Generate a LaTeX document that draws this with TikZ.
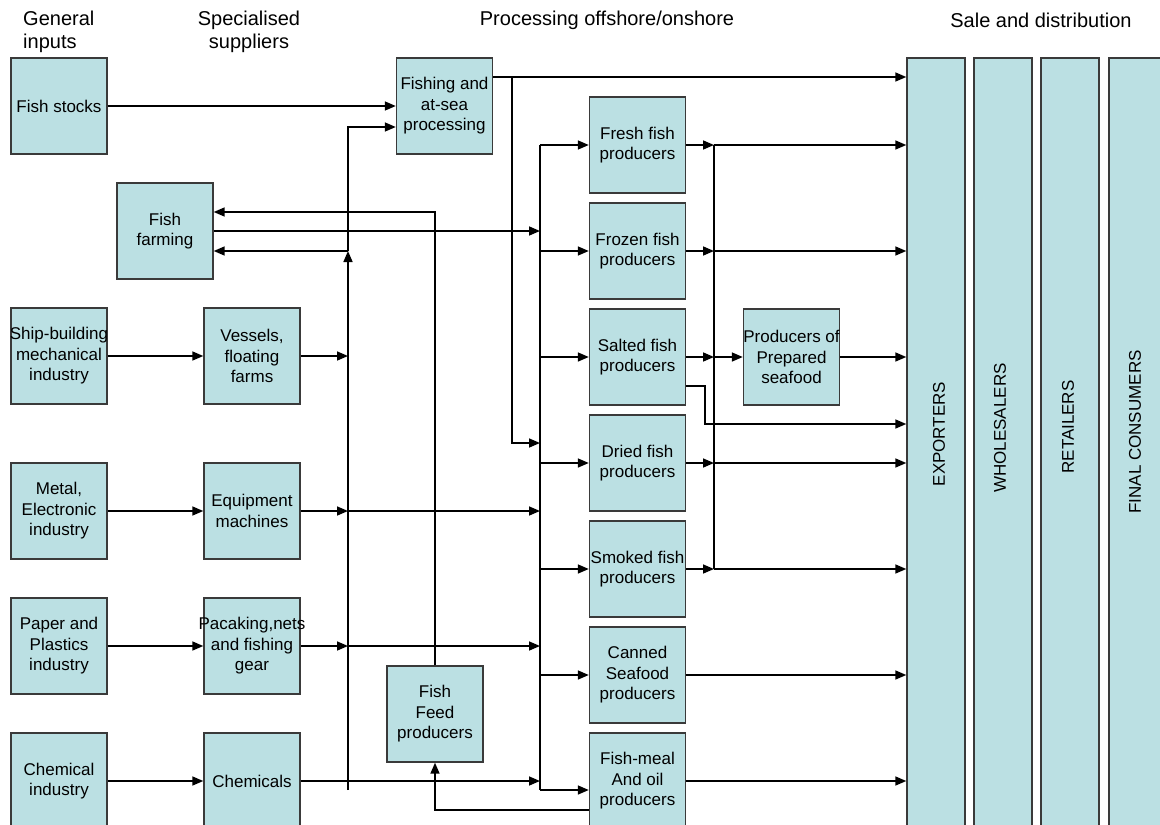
\documentclass[tikz,border=0pt]{standalone}
\usepackage{fontspec}
\setmainfont{Liberation Sans}
\usetikzlibrary{arrows.meta}
\definecolor{boxfill}{HTML}{BBE0E3}
\definecolor{boxline}{HTML}{3A3A3A}
\tikzset{
  box/.style={rectangle, draw=boxline, fill=boxfill, line width=1.4pt,
    minimum width=96pt, minimum height=96pt, inner sep=0pt, align=center,
    font=\fontsize{17}{20.5}\selectfont},
  colbox/.style={rectangle, draw=boxline, fill=boxfill, line width=1.4pt,
    minimum width=58pt, minimum height=772pt, inner sep=0pt},
  collabel/.style={rotate=90, font=\fontsize{17}{20}\selectfont, inner sep=0pt},
  head/.style={font=\fontsize{20}{23}\selectfont, inner sep=0pt},
  conn/.style={line width=1.6pt, black},
  arr/.style={conn, -{Triangle[length=11pt,width=9pt]}},
}
\newcommand{\wideline}[1]{\makebox[0pt][c]{#1}}
\begin{document}
\begin{tikzpicture}[x=1pt,y=-1pt]
\useasboundingbox (0,0) rectangle (1160,825);
\clip (0,0) rectangle (1160,825);

% headers
\node[head, align=left, anchor=west] (h1) at (23,31.5) {General\\inputs};
\node[head, align=center] (h2) at (249,31.5) {Specialised\\suppliers};
\node[head] (h3) at (607,20) {Processing offshore/onshore};
\node[head] (h4) at (1041,20) {Sale and distribution};

% column 1
\node[box] (fs) at (59,106) {Fish stocks};
\node[box] (sb) at (59,356) {\wideline{Ship-building}\\mechanical\\industry};
\node[box] (met) at (59,511) {Metal,\\Electronic\\industry};
\node[box] (pap) at (59,646) {Paper and\\Plastics\\industry};
\node[box] (chem) at (59,781) {Chemical\\industry};

% column 2
\node[box] (ff) at (165,231) {Fish\\farming};
\node[box] (ves) at (252,356) {Vessels,\\floating\\farms};
\node[box] (eq) at (252,511) {Equipment\\machines};
\node[box] (pack) at (252,646) {\wideline{Pacaking,nets}\\and fishing\\gear};
\node[box] (chs) at (252,781) {Chemicals};

% processing
\node[box] (fish) at (444.5,106) {Fishing and\\at-sea\\processing};
\node[box] (feed) at (435,714) {Fish\\Feed\\producers};
\node[box] (fresh) at (637.5,145) {Fresh fish\\producers};
\node[box] (frozen) at (637.5,251) {Frozen fish\\producers};
\node[box] (salted) at (637.5,357) {Salted fish\\producers};
\node[box] (dried) at (637.5,463) {Dried fish\\producers};
\node[box] (smoked) at (637.5,569) {\wideline{Smoked fish}\\producers};
\node[box] (canned) at (637.5,675) {Canned\\Seafood\\producers};
\node[box] (meal) at (637.5,781) {Fish-meal\\And oil\\producers};
\node[box] (prep) at (791.5,357) {\wideline{Producers of}\\Prepared\\seafood};

% sale and distribution
\node[colbox] (exp) at (936,444) {};
\node[colbox] (whole) at (1003,444) {};
\node[colbox] (ret) at (1070,444) {};
\node[colbox] (fin) at (1138,444) {};
\node[collabel] (expl) at (939,434) {EXPORTERS};
\node[collabel] (wholel) at (1000,428) {WHOLESALERS};
\node[collabel] (retl) at (1068,427) {RETAILERS};
\node[collabel] (finl) at (1135,432) {FINAL CONSUMERS};

% junction coordinates
\coordinate (vtop) at (348,127);
\coordinate (vmid) at (348,251);
\coordinate (vbot) at (348,790);
\coordinate (dtop) at (540,145);
\coordinate (dbot) at (540,790);
\coordinate (dfish) at (540,443);
\coordinate (fdrop) at (512,77);
\coordinate (rtop) at (714,145);
\coordinate (rbot) at (714,569);
\coordinate (sbend) at (705,424);

% general inputs -> suppliers
\draw[arr] (fs.east) -- (fish.west);
\draw[arr] (sb.east) -- (ves.west);
\draw[arr] (met.east) -- (eq.west);
\draw[arr] (pap.east) -- (pack.west);
\draw[arr] (chem.east) -- (chs.west);

% vertical supply line
\draw[arr] (vbot) -- (vmid);
\draw[arr] (vmid) -- (vmid -| ff.east);
\draw[arr] (vmid) -- (vtop) -- (vtop -| fish.west);
\draw[arr] (ves.east) -- (ves.east -| vbot);
\draw[arr] (eq.east) -- (eq.east -| vbot);
\draw[arr] (eq.east -| vbot) -- (eq.east -| dtop);
\draw[arr] (pack.east) -- (pack.east -| vbot);
\draw[arr] (pack.east -| vbot) -- (pack.east -| dtop);
\draw[arr] (chs.east) -- (chs.east -| dtop);

% fish farming
\draw[arr] (ff.east) -- (ff.east -| dtop);
\draw[arr] (feed.north) |- ([yshift=19pt]ff.east);
\draw[arr] ([yshift=-29pt]meal.west) -| (feed.south);

% distribution line to producers
\draw[conn] (dtop) -- (dbot);
\draw[arr] (dtop) -- (fresh.west);
\draw[arr] (frozen.west -| dtop) -- (frozen.west);
\draw[arr] (salted.west -| dtop) -- (salted.west);
\draw[arr] (dried.west -| dtop) -- (dried.west);
\draw[arr] (smoked.west -| dtop) -- (smoked.west);
\draw[arr] (canned.west -| dtop) -- (canned.west);
\draw[arr] (dbot) -- (dbot -| meal.west);

% fishing outputs
\draw[arr] ([yshift=29pt]fish.east) -- (fdrop -| exp.west);
\draw[arr] (fdrop) |- (dfish);

% producers outputs
\draw[conn] (rtop) -- (rbot);
\draw[arr] (fresh.east) -- (rtop);
\draw[arr] (rtop) -- (rtop -| exp.west);
\draw[arr] (frozen.east) -- (frozen.east -| rtop);
\draw[arr] (frozen.east -| rtop) -- (frozen.east -| exp.west);
\draw[arr] (salted.east) -- (salted.east -| rtop);
\draw[arr] (salted.east -| rtop) -- (prep.west);
\draw[arr] (prep.east) -- (prep.east -| exp.west);
\draw[arr] ([yshift=-29pt]salted.east) -| (sbend) -- (sbend -| exp.west);
\draw[arr] (dried.east) -- (dried.east -| rtop);
\draw[arr] (dried.east -| rtop) -- (dried.east -| exp.west);
\draw[arr] (smoked.east) -- (rbot);
\draw[arr] (rbot) -- (rbot -| exp.west);
\draw[arr] (canned.east) -- (canned.east -| exp.west);
\draw[arr] (meal.east) -- (meal.east -| exp.west);
\end{tikzpicture}
\end{document}
